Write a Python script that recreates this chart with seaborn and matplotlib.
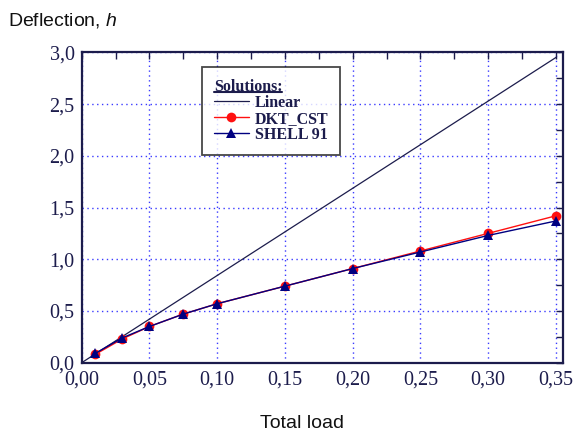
import numpy as np
import pandas as pd
import matplotlib
matplotlib.use("Agg")
import matplotlib.pyplot as plt
from matplotlib.lines import Line2D
from matplotlib.ticker import MultipleLocator, FixedLocator, FixedFormatter
import seaborn as sns

# data
load = [0.01, 0.03, 0.05, 0.075, 0.10, 0.15, 0.20, 0.25, 0.30, 0.35]
dkt_cst = [0.08, 0.23, 0.35, 0.47, 0.57, 0.74, 0.91, 1.08, 1.25, 1.42]
shell_91 = [0.09, 0.24, 0.35, 0.47, 0.57, 0.74, 0.91, 1.07, 1.23, 1.37]
linear_x = [0.0, 0.35]
linear_y = [0.0, 2.95]

x_ticks = [0.0, 0.05, 0.10, 0.15, 0.20, 0.25, 0.30, 0.35]
x_ticklabels = ['0,00', '0,05', '0,10', '0,15', '0,20', '0,25', '0,30', '0,35']
y_ticks = [0.0, 0.5, 1.0, 1.5, 2.0, 2.5, 3.0]
y_ticklabels = ['0,0', '0,5', '1,0', '1,5', '2,0', '2,5', '3,0']

navy = '#1c1c4c'

sns.set_style('white')
plt.rcParams['font.family'] = ['Liberation Serif', 'DejaVu Serif']
plt.rcParams['mathtext.fontset'] = 'custom'
plt.rcParams['mathtext.rm'] = 'Liberation Sans'
plt.rcParams['mathtext.it'] = 'Liberation Sans:italic'

fig = plt.figure(figsize=(5.76, 4.32), dpi=100)
ax = fig.add_axes([0.1418, 0.1604, 0.9769 - 0.1418, 0.8789 - 0.1604])

sns.lineplot(x=linear_x, y=linear_y, ax=ax, color=navy, lw=0.9, label='Linear')
sns.lineplot(x=load, y=dkt_cst, ax=ax, color='#ff1010', lw=1.0, marker='o',
             markersize=7, markeredgewidth=0, label='DKT_CST')
sns.lineplot(x=load, y=shell_91, ax=ax, color='#000080', lw=1.0, marker='^',
             markersize=7, markeredgewidth=0, label='SHELL 91')

ax.set_xlim(0, 0.355)
ax.set_ylim(0, 3.0)
ax.xaxis.set_major_locator(FixedLocator(x_ticks))
ax.xaxis.set_major_formatter(FixedFormatter(x_ticklabels))
ax.yaxis.set_major_locator(FixedLocator(y_ticks))
ax.yaxis.set_major_formatter(FixedFormatter(y_ticklabels))
ax.xaxis.set_minor_locator(MultipleLocator(0.025))
ax.yaxis.set_minor_locator(MultipleLocator(0.25))
ax.tick_params(which='both', direction='in', top=True, right=True,
               length=5, width=1, color=navy)
ax.tick_params(which='major', labelsize=14.5, labelcolor=navy)
ax.tick_params(axis='x', pad=6)
ax.tick_params(axis='y', pad=5)
for s in ax.spines.values():
    s.set_color(navy)
    s.set_linewidth(1.6)

ax.grid(True, which='major', color='#3a3aff', linestyle=(0, (1, 2.5)), lw=1.0)
ax.set_axisbelow(True)
ax.set_xlabel('')
ax.set_ylabel('')

leg = ax.legend(loc='upper left', bbox_to_anchor=(0.25, 0.953), borderaxespad=0,
                title='Solutions:', alignment='left',
                prop={'family': 'Liberation Serif', 'weight': 'bold', 'size': 11.5},
                title_fontproperties={'family': 'Liberation Serif', 'weight': 'bold',
                                      'size': 11.5},
                frameon=True, fancybox=False,
                handlelength=2.2, handletextpad=0.35, labelspacing=0.0,
                borderpad=0.75)
leg.get_frame().set_edgecolor('#1a1a1a')
leg.get_frame().set_linewidth(1.3)
for t in leg.get_texts():
    t.set_color(navy)
leg.get_title().set_color(navy)

fig.text(8 / 576, 1 - 20 / 432, r'Deflection, $h$', ha='left', va='center',
         fontsize=14, family='Liberation Sans', color='#111111')
fig.text(302 / 576, 1 - 423 / 432, 'Total load', ha='center', va='center',
         fontsize=14, family='Liberation Sans', color='#111111')

# underline the legend title
fig.canvas.draw()
bb = leg.get_title().get_window_extent().transformed(fig.transFigure.inverted())
uy = bb.y0 + 0.2 * bb.height
fig.add_artist(Line2D([bb.x0, bb.x1], [uy, uy], transform=fig.transFigure,
                      color=navy, lw=1.5))

fig.savefig('out.png', dpi=100)
